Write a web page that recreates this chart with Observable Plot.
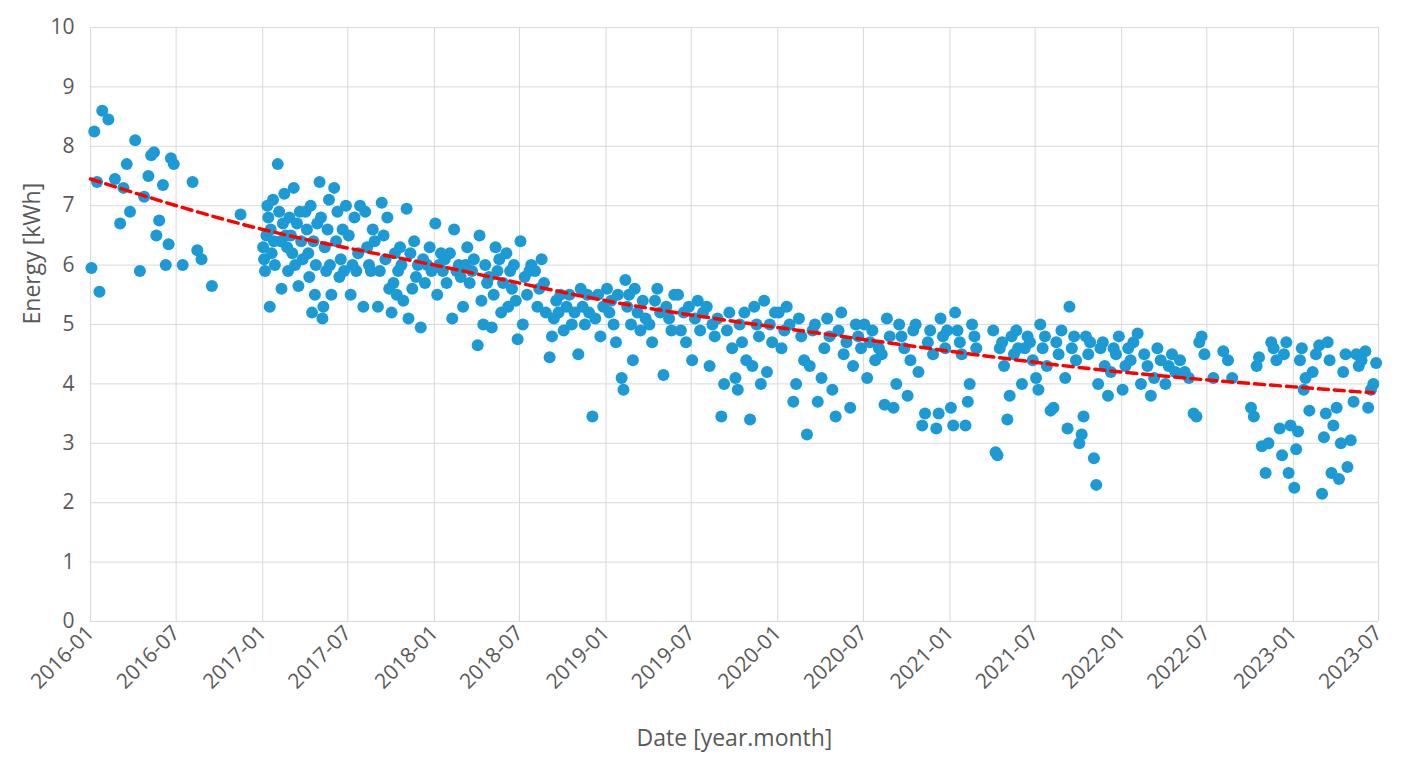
<!DOCTYPE html>
<html><head><meta charset="utf-8">
<script src="https://cdn.jsdelivr.net/npm/d3@7"></script>
<script src="https://cdn.jsdelivr.net/npm/@observablehq/plot@0.6"></script>
<style>body{margin:0;background:#fff;font-family:"Open Sans",sans-serif}</style>
</head><body><div id="c"></div>
<script>
const months = ["2016-01","2016-02","2016-03","2016-04","2016-05","2016-06","2016-07","2016-08","2016-09","2016-11",
"2017-01","2017-02","2017-03","2017-04","2017-05","2017-06","2017-07","2017-08","2017-09","2017-10","2017-11","2017-12",
"2018-01","2018-02","2018-03","2018-04","2018-05","2018-06","2018-07","2018-08","2018-09","2018-10","2018-11","2018-12",
"2019-01","2019-02","2019-03","2019-04","2019-05","2019-06","2019-07","2019-08","2019-09","2019-10","2019-11","2019-12",
"2020-01","2020-02","2020-03","2020-04","2020-05","2020-06","2020-07","2020-08","2020-09","2020-10","2020-11","2020-12",
"2021-01","2021-02","2021-04","2021-05","2021-06","2021-07","2021-08","2021-09","2021-10","2021-11","2021-12",
"2022-01","2022-02","2022-03","2022-04","2022-05","2022-06","2022-07","2022-08","2022-10","2022-11","2022-12",
"2023-01","2023-02","2023-03","2023-04","2023-05","2023-06"];
const monthValues = [
[5.95,8.25,7.4,5.55,8.6],[8.45,7.45],[6.7,7.3,7.7,6.9],[8.1,5.9,7.15],[7.5,7.85,7.9,6.5,6.75],[7.35,6.0,6.35,7.8,7.7],[6.0],[7.4,6.25,6.1],[5.65],[6.85],
[6.3,6.1,5.9,6.5,7.0,6.8,5.3,6.6,6.2,7.1,6.4,6.0],[7.7,6.9,6.4,5.6,6.7,7.2,6.5,6.3,5.9,6.8],[6.5,6.2,7.3,6.0,6.7,5.65,6.9,6.4,6.1],[6.9,6.6,6.2,5.8,7.0,5.2,6.4,5.5,6.0,6.7],[7.4,6.8,5.1,5.3,6.3,5.9,6.6,7.1,6.0,5.5],[7.3,6.4,6.9,5.8,6.1,6.6,5.9,7.0],[6.5,5.5,6.0,6.8,5.9,6.2,7.0],[5.3,6.9,6.3,6.0,5.9,6.6,6.4],[5.3,5.9,7.05,6.5,6.1,6.8,5.6],[5.2,5.7,6.2,5.5,5.9,6.3,6.0,5.4],[6.95,5.1,6.2,5.6,6.4,5.8,6.0],[4.95,6.1,5.7,6.0,6.3,5.9],
[6.7,5.5,6.0,6.2,5.9,6.1,5.7],[6.2,5.1,6.6,5.9,6.0,5.8],[5.3,6.0,6.3,5.7,5.9,6.1],[4.65,6.5,5.4,5.0,6.0,5.7,5.8],[4.95,5.5,6.3,5.9,6.1,5.2,5.7],[6.2,5.3,5.9,5.6,6.0,5.4,4.75],[6.4,5.0,5.8,5.5,5.9,6.0],[5.9,5.3,5.6,6.1,5.7,5.2],[4.45,4.8,5.1,5.4,5.2,5.5],[4.9,5.3,5.5,5.0,5.2],[4.5,5.6,5.3,5.0,5.5,5.2],[3.45,5.1,5.5,4.8,5.3],
[5.6,5.2,5.4,5.0,4.7,5.5],[4.1,3.9,5.75,5.3,5.5,5.0,4.4],[5.6,5.2,4.9,5.4,5.1],[5.0,4.7,5.4,5.6,5.2],[4.15,5.3,5.1,4.9,5.5],[5.5,4.9,5.2,4.7,5.3],[4.4,5.1,5.4,4.9,5.2],[5.3,4.3,5.0,4.8,5.1],[3.45,4.0,4.9,5.2,4.6],[4.1,3.9,5.0,4.7,5.2,4.4],[3.4,4.3,5.3,5.0,4.8,4.0],[5.4,4.2,5.0,4.7,5.2],
[5.2,4.6,4.9,5.3,5.0],[3.7,4.0,5.1,4.8,4.4],[3.15,4.3,4.9,5.0,3.7],[4.1,4.6,5.1,4.8,3.9],[3.45,4.9,5.2,4.5,4.7],[3.6,4.3,5.0,4.8,4.6],[5.0,4.1,4.7,4.9,4.4],[4.6,4.5,3.65,5.1,4.8],[3.6,4.0,5.0,4.8,4.6],[3.8,4.4,4.9,5.0,4.2],[3.3,3.5,4.7,4.9,4.5],[3.25,3.5,5.1,4.8,4.6,4.9],
[3.6,3.3,5.2,4.9,4.7,4.5],[3.3,3.7,4.0,5.0,4.8,4.6],[4.9,2.85,2.8,4.6,4.7,4.3],[3.4,3.8,4.8,4.5,4.9,4.6],[4.0,4.6,4.8,4.7,4.4],[4.1,3.9,5.0,4.6,4.8,4.3],[3.55,3.6,4.7,4.5,4.9],[4.1,3.25,5.3,4.6,4.8,4.4],[3.0,3.15,3.45,4.8,4.5,4.7],[2.75,2.3,4.0,4.6,4.7,4.3],[3.8,4.2,4.6,4.5,4.8],
[3.9,4.3,4.6,4.4,4.7],[4.85,4.0,4.5,4.3],[3.8,4.1,4.6,4.4],[4.0,4.3,4.5,4.2],[4.4,4.2,4.1],[3.5,3.45,4.7,4.8,4.5],[4.1],[4.55,4.4,4.1],[3.6,3.45,4.3,4.45,2.95],[2.5,3.0,4.7,4.6,4.4],[3.25,2.8,4.5,4.7,2.5,3.3],
[2.25,2.9,3.2,4.4,4.6,3.9,4.1],[3.55,4.2,4.5,4.65],[2.15,3.1,3.5,4.7,4.4,2.5,3.3],[3.6,2.4,3.0,4.2,4.5,2.6],[3.05,3.7,4.5,4.3,4.4],[4.55,3.6,3.9,4.0,4.35]];
const trendDates = ["2016-01-01","2017-01-01","2018-01-01","2019-01-01","2020-01-01","2021-01-01","2022-01-01","2023-01-01","2023-06-20"];
const trendValues = [7.45,6.6,6.0,5.4,4.95,4.55,4.2,3.95,3.85];

const pts = [];
months.forEach((m,i)=>{const vs=monthValues[i];vs.forEach((v,j)=>{
  const d=new Date(m+"-01T00:00:00Z");d.setUTCDate(1+Math.floor((j+0.5)*28/vs.length));pts.push({date:d,v});});});
const trend = trendDates.map((d,i)=>({date:new Date(d+"T00:00:00Z"),v:trendValues[i]}));
const grid="#d9d9d9", txt="#595959";
const xt = d3.utcMonth.every(6).range(new Date("2016-01-01"),new Date("2023-07-02"));
const chart = Plot.plot({
  width:1418,height:774,marginLeft:90,marginRight:40,marginTop:27,marginBottom:153,
  style:{fontFamily:"'Open Sans',sans-serif",fontSize:"21px",color:txt},
  x:{type:"utc",domain:[new Date("2016-01-01"),new Date("2023-07-01")]},
  y:{domain:[0,10]},
  marks:[
    Plot.gridY(d3.range(0,11),{stroke:grid,strokeOpacity:1}),
    Plot.gridX(xt,{stroke:grid,strokeOpacity:1}),
    Plot.axisY(d3.range(0,11),{tickSize:0,tickPadding:16,tickFormat:"d",label:null,fill:txt}),
    Plot.axisX(xt,{tickSize:0,tickPadding:8,tickRotate:-45,tickFormat:d3.utcFormat("%Y-%m"),label:null,fill:txt}),
    Plot.dot(pts,{x:"date",y:"v",r:6,fill:"#1b9ad6",stroke:"none"}),
    Plot.line(trend,{x:"date",y:"v",stroke:"#ff0000",strokeWidth:3.5,strokeDasharray:"10,6",curve:"natural"}),
    Plot.text(["Date [year.month]"],{frameAnchor:"bottom",dy:124,fontSize:23,fill:txt}),
    Plot.text(["Energy [kWh]"],{frameAnchor:"left",dx:-58,rotate:-90,fontSize:23,fill:txt})
  ]
});
document.getElementById("c").append(chart);
</script></body></html>
